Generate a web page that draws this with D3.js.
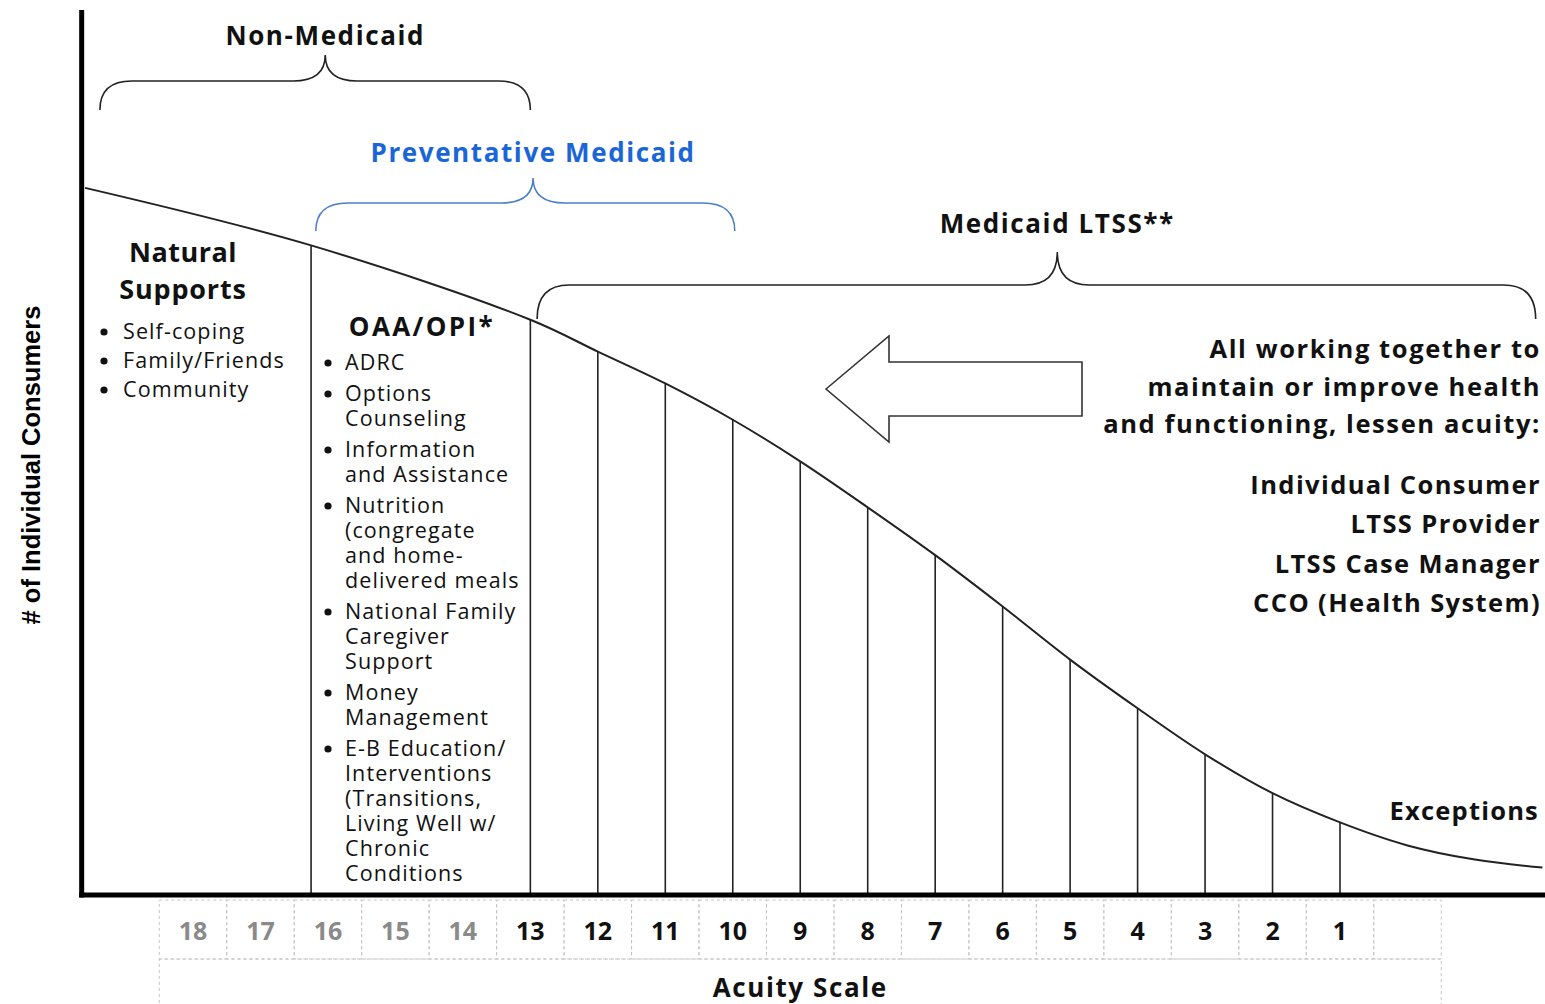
<!DOCTYPE html>
<html>
<head>
<meta charset="utf-8">
<script src="https://cdn.jsdelivr.net/npm/d3@7"></script>
<style>
  body { margin: 0; background: #fff; }
  .head { font-family: "Open Sans", sans-serif; font-weight: 700; fill: #111; letter-spacing: 1.6px; }
  .item { font-family: "Open Sans", sans-serif; font-size: 21.5px; letter-spacing: 1.1px; fill: #111; }
  .tick { font-family: "Open Sans", sans-serif; font-weight: 700; font-size: 25px; }
</style>
</head>
<body>
<div id="chart"></div>
<script>
// ---- data ----
const acuityLabels = [18, 17, 16, 15, 14, 13, 12, 11, 10, 9, 8, 7, 6, 5, 4, 3, 2, 1];
const greyLabels = [18, 17, 16, 15, 14];
// curve: acuity position -> share of consumers (arbitrary units 0-100)
const curveAcuity = [19.6, 16.25, 13, 12, 11, 10, 9, 8, 7, 6, 5, 4, 3, 2, 1, 0, -1, -2];
const curveValue  = [79.9, 73.4, 65.0, 61.4, 57.8, 53.7, 49.0, 43.8, 38.4, 32.6, 26.6, 21.1, 15.9, 11.5, 8.2, 5.6, 4.0, 3.1];
const dividerAcuity = [16.25, 13, 12, 11, 10, 9, 8, 7, 6, 5, 4, 3, 2, 1];
const bracketNames = ["Non-Medicaid", "Preventative Medicaid", "Medicaid LTSS**"];
const bracketFrom  = [19.38, 16.18, 12.9];
const bracketTip   = [16.04, 12.96, 5.19];
const bracketTo    = [13.0, 9.97, -1.9];
const naturalItems = ["Self-coping", "Family/Friends", "Community"];
const oaaItems = [
  ["ADRC"],
  ["Options", "Counseling"],
  ["Information", "and Assistance"],
  ["Nutrition", "(congregate", "and home-", "delivered meals"],
  ["National Family", "Caregiver", "Support"],
  ["Money", "Management"],
  ["E-B Education/", "Interventions", "(Transitions,", "Living Well w/", "Chronic", "Conditions"]
];
const together = ["All working together to", "maintain or improve health", "and functioning, lessen acuity:"];
const partners = ["Individual Consumer", "LTSS Provider", "LTSS Case Manager", "CCO (Health System)"];

const width = 1545, height = 1004;

const svg = d3.select("#chart").append("svg")
  .attr("width", width)
  .attr("height", height);

// scales
let x = d3.scaleLinear().domain([18, 1]).range([193, 1340]);
let y = d3.scaleLinear().domain([0, 100]).range([895, 10]);

const curveData = curveAcuity.map((a, i) => ({a: a, v: curveValue[i]}));

// acuity table (dashed cells)
const cells = acuityLabels.concat([0]);
svg.selectAll(".cell")
  .data(cells)
  .join("rect")
    .attr("class", "cell")
    .attr("x", d => x(d + 0.5))
    .attr("y", 900)
    .attr("width", x(0) - x(1))
    .attr("height", 59)
    .attr("fill", "none")
    .attr("stroke", "#c4c4c4")
    .attr("stroke-dasharray", "3,3");

svg.append("rect")
  .attr("x", x(18.5))
  .attr("y", 959)
  .attr("width", x(-0.5) - x(18.5))
  .attr("height", 60)
  .attr("fill", "none")
  .attr("stroke", "#c4c4c4")
  .attr("stroke-dasharray", "3,3");

svg.selectAll(".tick")
  .data(acuityLabels)
  .join("text")
    .attr("class", "tick")
    .attr("x", d => x(d))
    .attr("y", 940)
    .attr("text-anchor", "middle")
    .attr("fill", d => greyLabels.includes(d) ? "#8a8a8a" : "#111")
    .text(d => d);

svg.append("text")
  .attr("class", "head")
  .attr("x", (x(18.5) + x(-0.5)) / 2)
  .attr("y", 997)
  .attr("text-anchor", "middle")
  .style("font-size", "26px")
  .text("Acuity Scale");

// dividers under the curve
svg.selectAll(".divider")
  .data(curveData.filter(d => dividerAcuity.includes(d.a)))
  .join("line")
    .attr("class", "divider")
    .attr("x1", d => x(d.a))
    .attr("x2", d => x(d.a))
    .attr("y1", d => y(d.v))
    .attr("y2", y(0))
    .attr("stroke", "#222")
    .attr("stroke-width", 1.6);

// the curve
svg.append("path")
  .datum(curveData)
  .attr("fill", "none")
  .attr("stroke", "#222")
  .attr("stroke-width", 2)
  .attr("d", d3.line()
    .x(d => x(d.a))
    .y(d => y(d.v))
    .curve(d3.curveCatmullRom.alpha(0.5)));

// axes
svg.append("line")
  .attr("x1", x(19.65)).attr("x2", x(19.65))
  .attr("y1", y(100)).attr("y2", y(0) + 2.5)
  .attr("stroke", "#000").attr("stroke-width", 5);
svg.append("line")
  .attr("x1", x(19.65) - 2.5).attr("x2", width)
  .attr("y1", y(0)).attr("y2", y(0))
  .attr("stroke", "#000").attr("stroke-width", 5);

svg.append("text")
  .attr("transform", "rotate(-90)")
  .attr("x", -465)
  .attr("y", 40)
  .attr("text-anchor", "middle")
  .style("font-family", "'Liberation Sans', Arial, sans-serif")
  .style("font-weight", "bold")
  .style("font-size", "25.5px")
  .text("# of Individual Consumers");

// ---- curly brackets ----
function brace(x1, xm, x2, yEnd, yH, yTip, r) {
  return "M" + x1 + "," + yEnd +
    " Q" + x1 + "," + yH + " " + (x1 + r) + "," + yH +
    " L" + (xm - r) + "," + yH +
    " Q" + xm + "," + yH + " " + xm + "," + yTip +
    " Q" + xm + "," + yH + " " + (xm + r) + "," + yH +
    " L" + (x2 - r) + "," + yH +
    " Q" + x2 + "," + yH + " " + x2 + "," + yEnd;
}
const braceY = [[110, 81, 55, 45], [231, 203, 178, 162], [319, 285, 252, 233]];
const braceCol = [["#222", "#111"], ["#4a80c8", "#1a66d8"], ["#222", "#111"]];

bracketNames.forEach(function(name, i) {
  const x1 = x(bracketFrom[i]), xm = x(bracketTip[i]), x2 = x(bracketTo[i]);
  svg.append("path")
    .attr("d", brace(x1, xm, x2, braceY[i][0], braceY[i][1], braceY[i][2], 32))
    .attr("fill", "none")
    .attr("stroke", braceCol[i][0])
    .attr("stroke-width", 1.6);
  svg.append("text")
    .attr("class", "head")
    .attr("x", xm)
    .attr("y", braceY[i][3])
    .attr("text-anchor", "middle")
    .style("font-size", "26px")
    .style("fill", braceCol[i][1])
    .text(name);
});

// ---- left column: natural supports ----
svg.append("text").attr("class", "head")
  .attr("x", 183).attr("y", 262).attr("text-anchor", "middle")
  .style("font-size", "27px").style("letter-spacing", "0.5px").text("Natural");
svg.append("text").attr("class", "head")
  .attr("x", 183).attr("y", 299).attr("text-anchor", "middle")
  .style("font-size", "27px").style("letter-spacing", "0.8px").text("Supports");

naturalItems.forEach(function(t, i) {
  svg.append("circle")
    .attr("cx", 104).attr("cy", 332 + i * 29).attr("r", 3.6).attr("fill", "#111");
  svg.append("text").attr("class", "item")
    .attr("x", 123).attr("y", 339 + i * 29).text(t);
});

// ---- middle column: OAA/OPI ----
svg.append("text").attr("class", "head")
  .attr("x", 422).attr("y", 336).attr("text-anchor", "middle")
  .style("font-size", "26px").style("letter-spacing", "2.4px").text("OAA/OPI*");

let ly = 370;
oaaItems.forEach(function(lines) {
  svg.append("circle")
    .attr("cx", 328).attr("cy", ly - 7).attr("r", 3.6).attr("fill", "#111");
  svg.append("text").attr("class", "item")
    .attr("x", 345).attr("y", ly)
    .selectAll("tspan")
    .data(lines)
    .join("tspan")
      .attr("x", 345)
      .attr("dy", (d, j) => j === 0 ? 0 : 25)
      .text(d => d);
  ly += (lines.length - 1) * 25 + 31;
});

// ---- arrow ----
const arrowPts = [[826, 389], [889, 336], [889, 362], [1082, 362], [1082, 416], [889, 416], [889, 442]];
svg.append("path")
  .attr("d", d3.line()(arrowPts) + "Z")
  .attr("fill", "#fff")
  .attr("stroke", "#333")
  .attr("stroke-width", 1.6);

// ---- right text ----
together.forEach(function(t, i) {
  svg.append("text").attr("class", "head")
    .attr("x", 1541).attr("y", 358 + i * 37.5).attr("text-anchor", "end")
    .style("font-size", "25.5px").text(t);
});
partners.forEach(function(t, i) {
  svg.append("text").attr("class", "head")
    .attr("x", 1541).attr("y", 494 + i * 39.3).attr("text-anchor", "end")
    .style("font-size", "25.5px").style("letter-spacing", "1.4px").text(t);
});
svg.append("text").attr("class", "head")
  .attr("x", 1539).attr("y", 820).attr("text-anchor", "end")
  .style("font-size", "25.5px").style("letter-spacing", "1.2px").text("Exceptions");
</script>
</body>
</html>
